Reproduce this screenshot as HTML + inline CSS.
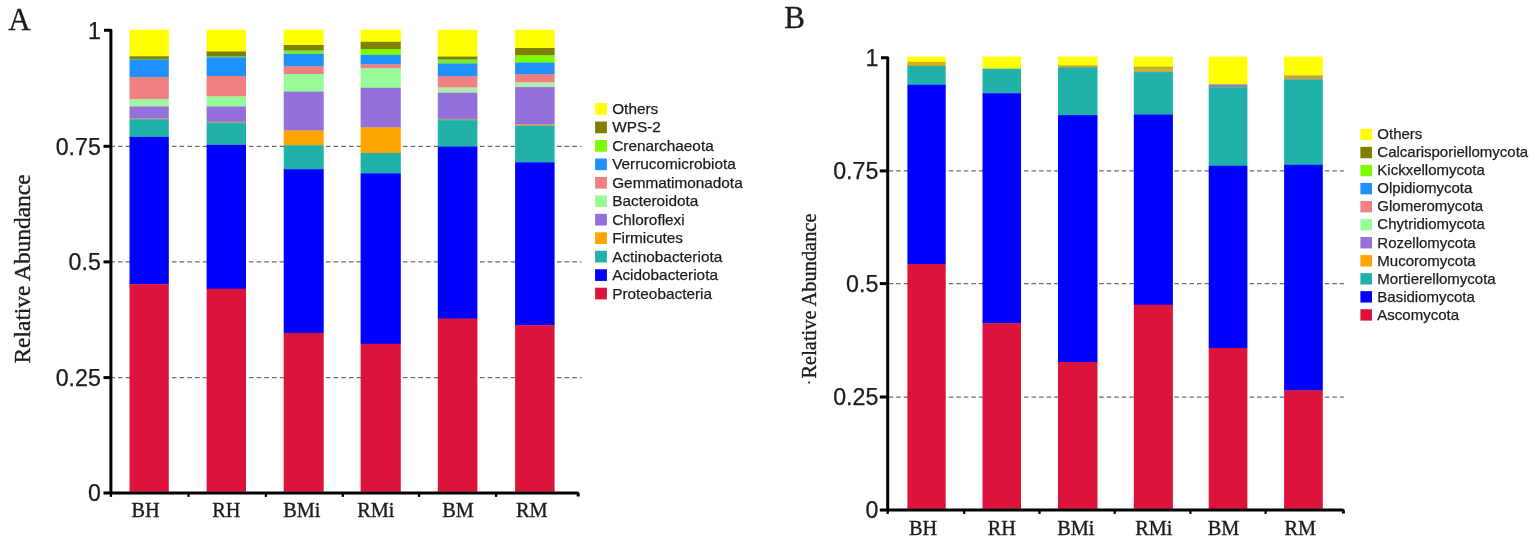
<!DOCTYPE html>
<html lang="en"><head><meta charset="utf-8"><title>Relative Abundance</title>
<style>
html,body{margin:0;padding:0;background:#fff;}
body{width:1535px;height:543px;overflow:hidden;}
svg{display:block;filter:blur(0.55px);}
.sans{font-family:"Liberation Sans",Arial,Helvetica,sans-serif;stroke:#1c1c1c;stroke-width:0.25px;}
.serif{font-family:"Liberation Serif","Times New Roman",Times,serif;stroke:#1c1c1c;stroke-width:0.35px;}
</style></head><body>
<svg width="1535" height="543" viewBox="0 0 1535 543">
<rect x="0" y="0" width="1535" height="543" fill="#ffffff"/>

<g id="chartA">
<line x1="110.3" y1="146.3" x2="581.5" y2="146.3" stroke="#6e6e6e" stroke-width="1.25" stroke-dasharray="4.6 3.1"/>
<line x1="110.3" y1="261.9" x2="581.5" y2="261.9" stroke="#6e6e6e" stroke-width="1.25" stroke-dasharray="4.6 3.1"/>
<line x1="110.3" y1="377.6" x2="581.5" y2="377.6" stroke="#6e6e6e" stroke-width="1.25" stroke-dasharray="4.6 3.1"/>
<rect x="129.50" y="29.70" width="39.3" height="26.90" fill="#FFFF00"/>
<rect x="129.50" y="56.30" width="39.3" height="2.80" fill="#808000"/>
<rect x="129.50" y="58.80" width="39.3" height="1.30" fill="#70C060"/>
<rect x="129.50" y="59.80" width="39.3" height="17.60" fill="#1E90FF"/>
<rect x="129.50" y="77.10" width="39.3" height="22.20" fill="#F08080"/>
<rect x="129.50" y="99.00" width="39.3" height="7.80" fill="#A4F2A4"/>
<rect x="129.50" y="106.50" width="39.3" height="12.10" fill="#9370DB"/>
<rect x="129.50" y="118.30" width="39.3" height="1.60" fill="#A89C80"/>
<rect x="129.50" y="119.60" width="39.3" height="17.60" fill="#20B2AA"/>
<rect x="129.50" y="136.90" width="39.3" height="147.60" fill="#0000FF"/>
<rect x="129.50" y="284.20" width="39.3" height="207.60" fill="#DC143C"/>
<rect x="206.60" y="29.70" width="39.4" height="22.00" fill="#FFFF00"/>
<rect x="206.60" y="51.40" width="39.4" height="4.90" fill="#808000"/>
<rect x="206.60" y="56.00" width="39.4" height="1.80" fill="#70C060"/>
<rect x="206.60" y="57.50" width="39.4" height="18.80" fill="#1E90FF"/>
<rect x="206.60" y="76.00" width="39.4" height="20.70" fill="#F08080"/>
<rect x="206.60" y="96.40" width="39.4" height="10.40" fill="#98FB98"/>
<rect x="206.60" y="106.50" width="39.4" height="15.40" fill="#9370DB"/>
<rect x="206.60" y="121.60" width="39.4" height="1.80" fill="#A89C80"/>
<rect x="206.60" y="123.10" width="39.4" height="22.10" fill="#20B2AA"/>
<rect x="206.60" y="144.90" width="39.4" height="144.10" fill="#0000FF"/>
<rect x="206.60" y="288.70" width="39.4" height="203.10" fill="#DC143C"/>
<rect x="283.70" y="29.70" width="40.0" height="15.60" fill="#FFFF00"/>
<rect x="283.70" y="45.00" width="40.0" height="5.80" fill="#808000"/>
<rect x="283.70" y="50.50" width="40.0" height="3.80" fill="#78E638"/>
<rect x="283.70" y="54.00" width="40.0" height="12.60" fill="#1E90FF"/>
<rect x="283.70" y="66.30" width="40.0" height="8.00" fill="#F08080"/>
<rect x="283.70" y="74.00" width="40.0" height="17.90" fill="#98FB98"/>
<rect x="283.70" y="91.60" width="40.0" height="39.20" fill="#9370DB"/>
<rect x="283.70" y="130.50" width="40.0" height="15.00" fill="#FFA500"/>
<rect x="283.70" y="145.20" width="40.0" height="24.30" fill="#20B2AA"/>
<rect x="283.70" y="169.20" width="40.0" height="164.00" fill="#0000FF"/>
<rect x="283.70" y="332.90" width="40.0" height="158.90" fill="#DC143C"/>
<rect x="360.60" y="29.70" width="40.2" height="12.40" fill="#FFFF00"/>
<rect x="360.60" y="41.80" width="40.2" height="7.70" fill="#808000"/>
<rect x="360.60" y="49.20" width="40.2" height="6.00" fill="#7CFC00"/>
<rect x="360.60" y="54.90" width="40.2" height="9.70" fill="#1E90FF"/>
<rect x="360.60" y="64.30" width="40.2" height="4.20" fill="#F08080"/>
<rect x="360.60" y="68.20" width="40.2" height="19.90" fill="#98FB98"/>
<rect x="360.60" y="87.80" width="40.2" height="39.90" fill="#9370DB"/>
<rect x="360.60" y="127.40" width="40.2" height="25.90" fill="#FFA500"/>
<rect x="360.60" y="153.00" width="40.2" height="20.60" fill="#20B2AA"/>
<rect x="360.60" y="173.30" width="40.2" height="170.80" fill="#0000FF"/>
<rect x="360.60" y="343.80" width="40.2" height="148.00" fill="#DC143C"/>
<rect x="437.80" y="29.70" width="39.6" height="27.20" fill="#FFFF00"/>
<rect x="437.80" y="56.60" width="39.6" height="3.20" fill="#808000"/>
<rect x="437.80" y="59.50" width="39.6" height="4.50" fill="#78E638"/>
<rect x="437.80" y="63.70" width="39.6" height="12.90" fill="#1E90FF"/>
<rect x="437.80" y="76.30" width="39.6" height="11.50" fill="#F08080"/>
<rect x="437.80" y="87.50" width="39.6" height="5.60" fill="#B2EAB2"/>
<rect x="437.80" y="92.80" width="39.6" height="26.20" fill="#9370DB"/>
<rect x="437.80" y="118.70" width="39.6" height="1.80" fill="#A89C80"/>
<rect x="437.80" y="120.20" width="39.6" height="26.70" fill="#20B2AA"/>
<rect x="437.80" y="146.60" width="39.6" height="172.30" fill="#0000FF"/>
<rect x="437.80" y="318.60" width="39.6" height="173.20" fill="#DC143C"/>
<rect x="515.10" y="29.70" width="39.5" height="18.60" fill="#FFFF00"/>
<rect x="515.10" y="48.00" width="39.5" height="7.60" fill="#808000"/>
<rect x="515.10" y="55.30" width="39.5" height="7.60" fill="#7CFC00"/>
<rect x="515.10" y="62.60" width="39.5" height="12.10" fill="#1E90FF"/>
<rect x="515.10" y="74.40" width="39.5" height="8.30" fill="#F08080"/>
<rect x="515.10" y="82.40" width="39.5" height="5.00" fill="#B2EAB2"/>
<rect x="515.10" y="87.10" width="39.5" height="37.30" fill="#9370DB"/>
<rect x="515.10" y="124.10" width="39.5" height="2.20" fill="#BCA070"/>
<rect x="515.10" y="126.00" width="39.5" height="36.60" fill="#20B2AA"/>
<rect x="515.10" y="162.30" width="39.5" height="163.10" fill="#0000FF"/>
<rect x="515.10" y="325.10" width="39.5" height="166.70" fill="#DC143C"/>
<path d="M104 30.2 H110.9 V493 H577 Q578.2 493 578.2 494.4 V496.4" fill="none" stroke="#000" stroke-width="3" stroke-linejoin="round"/>
<line x1="103.5" y1="146.3" x2="111" y2="146.3" stroke="#000" stroke-width="3"/>
<line x1="103.5" y1="261.9" x2="111" y2="261.9" stroke="#000" stroke-width="3"/>
<line x1="103.5" y1="377.6" x2="111" y2="377.6" stroke="#000" stroke-width="3"/>
<line x1="103.5" y1="493" x2="111" y2="493" stroke="#000" stroke-width="3"/>
<line x1="110.9" y1="493" x2="110.9" y2="496.9" stroke="#000" stroke-width="2.3"/>
<line x1="188.5" y1="493" x2="188.5" y2="496.9" stroke="#000" stroke-width="2.3"/>
<line x1="265.9" y1="493" x2="265.9" y2="496.9" stroke="#000" stroke-width="2.3"/>
<line x1="342.8" y1="493" x2="342.8" y2="496.9" stroke="#000" stroke-width="2.3"/>
<line x1="419.1" y1="493" x2="419.1" y2="496.9" stroke="#000" stroke-width="2.3"/>
<line x1="496.1" y1="493" x2="496.1" y2="496.9" stroke="#000" stroke-width="2.3"/>
<text class="sans" x="100.8" y="38.8" font-size="23.2" text-anchor="end" fill="#1c1c1c">1</text>
<text class="sans" x="100.8" y="154.6" font-size="23.2" text-anchor="end" fill="#1c1c1c">0.75</text>
<text class="sans" x="100.8" y="270.2" font-size="23.2" text-anchor="end" fill="#1c1c1c">0.5</text>
<text class="sans" x="100.8" y="385.9" font-size="23.2" text-anchor="end" fill="#1c1c1c">0.25</text>
<text class="sans" x="100.8" y="501.2" font-size="23.2" text-anchor="end" fill="#1c1c1c">0</text>
<text class="serif" x="145.5" y="517.3" font-size="20.3" text-anchor="middle" fill="#1c1c1c">BH</text>
<text class="serif" x="226.35" y="517.3" font-size="20.3" text-anchor="middle" fill="#1c1c1c">RH</text>
<text class="serif" x="301.8" y="517.3" font-size="20.3" text-anchor="middle" fill="#1c1c1c">BMi</text>
<text class="serif" x="375.85" y="517.3" font-size="20.3" text-anchor="middle" fill="#1c1c1c">RMi</text>
<text class="serif" x="458.0" y="517.3" font-size="20.3" text-anchor="middle" fill="#1c1c1c">BM</text>
<text class="serif" x="531.8" y="517.3" font-size="20.3" text-anchor="middle" fill="#1c1c1c">RM</text>
<text class="serif" transform="translate(30.2 269) rotate(-90)" font-size="23" text-anchor="middle" fill="#1c1c1c" textLength="189" lengthAdjust="spacingAndGlyphs">Relative Abundance</text>
<text class="serif" x="8.2" y="29.6" font-size="31" fill="#1c1c1c">A</text>
<rect x="595.1" y="103.10" width="11.8" height="11.7" fill="#FFFF00"/>
<text class="sans" x="612.2" y="114.00" font-size="15.35" fill="#1c1c1c">Others</text>
<rect x="595.1" y="121.56" width="11.8" height="11.7" fill="#808000"/>
<text class="sans" x="612.2" y="132.46" font-size="15.35" fill="#1c1c1c">WPS-2</text>
<rect x="595.1" y="140.02" width="11.8" height="11.7" fill="#7CFC00"/>
<text class="sans" x="612.2" y="150.92" font-size="15.35" fill="#1c1c1c">Crenarchaeota</text>
<rect x="595.1" y="158.48" width="11.8" height="11.7" fill="#1E90FF"/>
<text class="sans" x="612.2" y="169.38" font-size="15.35" fill="#1c1c1c">Verrucomicrobiota</text>
<rect x="595.1" y="176.94" width="11.8" height="11.7" fill="#F08080"/>
<text class="sans" x="612.2" y="187.84" font-size="15.35" fill="#1c1c1c">Gemmatimonadota</text>
<rect x="595.1" y="195.40" width="11.8" height="11.7" fill="#98FB98"/>
<text class="sans" x="612.2" y="206.30" font-size="15.35" fill="#1c1c1c">Bacteroidota</text>
<rect x="595.1" y="213.86" width="11.8" height="11.7" fill="#9370DB"/>
<text class="sans" x="612.2" y="224.76" font-size="15.35" fill="#1c1c1c">Chloroflexi</text>
<rect x="595.1" y="232.32" width="11.8" height="11.7" fill="#FFA500"/>
<text class="sans" x="612.2" y="243.22" font-size="15.35" fill="#1c1c1c">Firmicutes</text>
<rect x="595.1" y="250.78" width="11.8" height="11.7" fill="#20B2AA"/>
<text class="sans" x="612.2" y="261.68" font-size="15.35" fill="#1c1c1c">Actinobacteriota</text>
<rect x="595.1" y="269.24" width="11.8" height="11.7" fill="#0000FF"/>
<text class="sans" x="612.2" y="280.14" font-size="15.35" fill="#1c1c1c">Acidobacteriota</text>
<rect x="595.1" y="287.70" width="11.8" height="11.7" fill="#DC143C"/>
<text class="sans" x="612.2" y="298.60" font-size="15.35" fill="#1c1c1c">Proteobacteria</text>
</g>
<g id="chartB">
<line x1="888.6" y1="170.9" x2="1344" y2="170.9" stroke="#6e6e6e" stroke-width="1.25" stroke-dasharray="4.6 2.92"/>
<line x1="888.6" y1="283.6" x2="1344" y2="283.6" stroke="#6e6e6e" stroke-width="1.25" stroke-dasharray="4.6 2.92"/>
<line x1="888.6" y1="397.0" x2="1344" y2="397.0" stroke="#6e6e6e" stroke-width="1.25" stroke-dasharray="4.6 2.92"/>
<rect x="907.40" y="56.60" width="38.3" height="5.50" fill="#FFFF00"/>
<rect x="907.40" y="61.80" width="38.3" height="4.30" fill="#E0AA1C"/>
<rect x="907.40" y="65.80" width="38.3" height="19.30" fill="#20B2AA"/>
<rect x="907.40" y="84.80" width="38.3" height="179.50" fill="#0000FF"/>
<rect x="907.40" y="264.00" width="38.3" height="244.90" fill="#DC143C"/>
<rect x="982.50" y="56.60" width="38.5" height="12.40" fill="#FFFF00"/>
<rect x="982.50" y="68.70" width="38.5" height="24.80" fill="#20B2AA"/>
<rect x="982.50" y="93.20" width="38.5" height="230.40" fill="#0000FF"/>
<rect x="982.50" y="323.30" width="38.5" height="185.60" fill="#DC143C"/>
<rect x="1058.00" y="56.60" width="39.5" height="9.20" fill="#FFFF00"/>
<rect x="1058.00" y="65.50" width="39.5" height="2.30" fill="#C0A030"/>
<rect x="1058.00" y="67.50" width="39.5" height="47.90" fill="#20B2AA"/>
<rect x="1058.00" y="115.10" width="39.5" height="247.20" fill="#0000FF"/>
<rect x="1058.00" y="362.00" width="39.5" height="146.90" fill="#DC143C"/>
<rect x="1133.80" y="56.60" width="39.1" height="10.30" fill="#FFFF00"/>
<rect x="1133.80" y="66.60" width="39.1" height="2.90" fill="#BCAE22"/>
<rect x="1133.80" y="69.20" width="39.1" height="3.20" fill="#C9AB3A"/>
<rect x="1133.80" y="72.10" width="39.1" height="42.70" fill="#20B2AA"/>
<rect x="1133.80" y="114.50" width="39.1" height="190.50" fill="#0000FF"/>
<rect x="1133.80" y="304.70" width="39.1" height="204.20" fill="#DC143C"/>
<rect x="1208.70" y="56.60" width="38.7" height="28.10" fill="#FFFF00"/>
<rect x="1208.70" y="84.40" width="38.7" height="3.20" fill="#8585A5"/>
<rect x="1208.70" y="87.30" width="38.7" height="78.80" fill="#20B2AA"/>
<rect x="1208.70" y="165.80" width="38.7" height="182.40" fill="#0000FF"/>
<rect x="1208.70" y="347.90" width="38.7" height="161.00" fill="#DC143C"/>
<rect x="1284.10" y="56.60" width="38.7" height="19.10" fill="#FFFF00"/>
<rect x="1284.10" y="75.40" width="38.7" height="2.70" fill="#C8A030"/>
<rect x="1284.10" y="77.80" width="38.7" height="2.20" fill="#A8AA68"/>
<rect x="1284.10" y="79.70" width="38.7" height="85.40" fill="#20B2AA"/>
<rect x="1284.10" y="164.80" width="38.7" height="225.90" fill="#0000FF"/>
<rect x="1284.10" y="390.40" width="38.7" height="118.50" fill="#DC143C"/>
<path d="M881 57.7 H887.7 V510 H1342.2 Q1343.4 510 1343.4 511.4 V513.4" fill="none" stroke="#000" stroke-width="3" stroke-linejoin="round"/>
<line x1="879.8" y1="170.9" x2="888" y2="170.9" stroke="#000" stroke-width="3"/>
<line x1="879.8" y1="283.6" x2="888" y2="283.6" stroke="#000" stroke-width="3"/>
<line x1="879.8" y1="397.0" x2="888" y2="397.0" stroke="#000" stroke-width="3"/>
<line x1="879.8" y1="510" x2="888" y2="510" stroke="#000" stroke-width="3"/>
<line x1="887.7" y1="510" x2="887.7" y2="513.9" stroke="#000" stroke-width="2.3"/>
<line x1="964.2" y1="510" x2="964.2" y2="513.9" stroke="#000" stroke-width="2.3"/>
<line x1="1039.5" y1="510" x2="1039.5" y2="513.9" stroke="#000" stroke-width="2.3"/>
<line x1="1114.7" y1="510" x2="1114.7" y2="513.9" stroke="#000" stroke-width="2.3"/>
<line x1="1190.4" y1="510" x2="1190.4" y2="513.9" stroke="#000" stroke-width="2.3"/>
<line x1="1265.6" y1="510" x2="1265.6" y2="513.9" stroke="#000" stroke-width="2.3"/>
<text class="sans" x="878.3" y="66.1" font-size="23.2" text-anchor="end" fill="#1c1c1c">1</text>
<text class="sans" x="878.3" y="179.1" font-size="23.2" text-anchor="end" fill="#1c1c1c">0.75</text>
<text class="sans" x="878.3" y="291.9" font-size="23.2" text-anchor="end" fill="#1c1c1c">0.5</text>
<text class="sans" x="878.3" y="405.2" font-size="23.2" text-anchor="end" fill="#1c1c1c">0.25</text>
<text class="sans" x="878.3" y="517.8" font-size="23.2" text-anchor="end" fill="#1c1c1c">0</text>
<text class="serif" x="923.0" y="534.8" font-size="20.3" text-anchor="middle" fill="#1c1c1c">BH</text>
<text class="serif" x="1001.9" y="534.8" font-size="20.3" text-anchor="middle" fill="#1c1c1c">RH</text>
<text class="serif" x="1075.8" y="534.8" font-size="20.3" text-anchor="middle" fill="#1c1c1c">BMi</text>
<text class="serif" x="1153.8" y="534.8" font-size="20.3" text-anchor="middle" fill="#1c1c1c">RMi</text>
<text class="serif" x="1223.6" y="534.8" font-size="20.3" text-anchor="middle" fill="#1c1c1c">BM</text>
<text class="serif" x="1300.3" y="534.8" font-size="20.3" text-anchor="middle" fill="#1c1c1c">RM</text>
<text class="serif" transform="translate(816.2 296) rotate(-90)" font-size="20.5" text-anchor="middle" fill="#1c1c1c" textLength="165" lengthAdjust="spacingAndGlyphs">Relative Abundance</text>
<text class="serif" transform="translate(814 382.5) rotate(-90)" font-size="14" text-anchor="middle" fill="#333">·</text>
<text class="serif" x="784.3" y="28.4" font-size="31" fill="#1c1c1c">B</text>
<rect x="1360.4" y="128.80" width="11.6" height="11.4" fill="#FFFF00"/>
<text class="sans" x="1377.3" y="138.80" font-size="15" fill="#1c1c1c">Others</text>
<rect x="1360.4" y="146.84" width="11.6" height="11.4" fill="#808000"/>
<text class="sans" x="1377.3" y="156.93" font-size="15" fill="#1c1c1c">Calcarisporiellomycota</text>
<rect x="1360.4" y="164.88" width="11.6" height="11.4" fill="#7CFC00"/>
<text class="sans" x="1377.3" y="175.06" font-size="15" fill="#1c1c1c">Kickxellomycota</text>
<rect x="1360.4" y="182.92" width="11.6" height="11.4" fill="#1E90FF"/>
<text class="sans" x="1377.3" y="193.19" font-size="15" fill="#1c1c1c">Olpidiomycota</text>
<rect x="1360.4" y="200.96" width="11.6" height="11.4" fill="#F08080"/>
<text class="sans" x="1377.3" y="211.32" font-size="15" fill="#1c1c1c">Glomeromycota</text>
<rect x="1360.4" y="219.00" width="11.6" height="11.4" fill="#98FB98"/>
<text class="sans" x="1377.3" y="229.45" font-size="15" fill="#1c1c1c">Chytridiomycota</text>
<rect x="1360.4" y="237.04" width="11.6" height="11.4" fill="#9370DB"/>
<text class="sans" x="1377.3" y="247.58" font-size="15" fill="#1c1c1c">Rozellomycota</text>
<rect x="1360.4" y="255.08" width="11.6" height="11.4" fill="#FFA500"/>
<text class="sans" x="1377.3" y="265.71" font-size="15" fill="#1c1c1c">Mucoromycota</text>
<rect x="1360.4" y="273.12" width="11.6" height="11.4" fill="#20B2AA"/>
<text class="sans" x="1377.3" y="283.84" font-size="15" fill="#1c1c1c">Mortierellomycota</text>
<rect x="1360.4" y="291.16" width="11.6" height="11.4" fill="#0000FF"/>
<text class="sans" x="1377.3" y="301.97" font-size="15" fill="#1c1c1c">Basidiomycota</text>
<rect x="1360.4" y="309.20" width="11.6" height="11.4" fill="#DC143C"/>
<text class="sans" x="1377.3" y="320.10" font-size="15" fill="#1c1c1c">Ascomycota</text>
</g>
</svg>
</body></html>
